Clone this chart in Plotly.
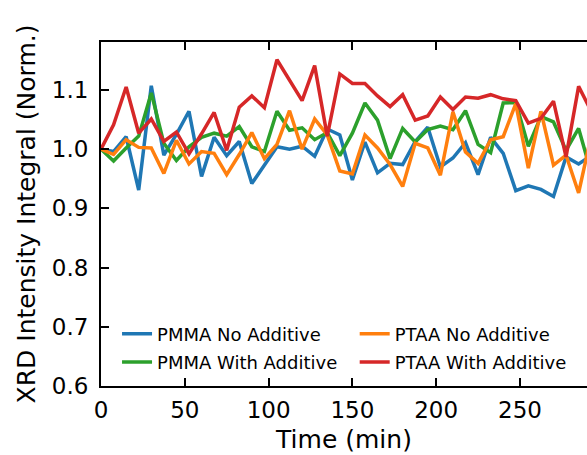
import plotly.graph_objects as go

time_min = [0, 7.5, 15, 22.5, 30, 37.5, 45, 52.5, 60, 67.5, 75, 82.5, 90, 97.5,
            105, 112.5, 120, 127.5, 135, 142.5, 150, 157.5, 165, 172.5, 180, 187.5,
            195, 202.5, 210, 217.5, 225, 232.5, 240, 247.5, 255, 262.5, 270, 277.5,
            285, 292.5]

pmma_no_additive = [1.000, 0.996, 1.021, 0.931, 1.107, 0.990, 1.025, 1.064, 0.954, 1.020,
                    0.989, 1.013, 0.942, 0.972, 1.004, 1.000, 1.005, 0.988, 1.034, 1.024,
                    0.948, 1.012, 0.960, 0.976, 0.974, 1.013, 1.037, 0.970, 0.985, 1.011,
                    0.957, 1.020, 0.993, 0.930, 0.938, 0.932, 0.920, 0.987, 0.975, 0.989]

pmma_with_additive = [1.000, 0.980, 1.002, 1.022, 1.095, 1.010, 0.981, 1.004, 1.020, 1.027,
                      1.022, 1.038, 1.004, 0.996, 1.064, 1.032, 1.036, 1.016, 1.028, 0.989,
                      1.027, 1.078, 1.049, 0.984, 1.035, 1.012, 1.033, 1.039, 1.033, 1.065,
                      1.008, 0.994, 1.078, 1.079, 1.005, 1.055, 1.046, 0.998, 1.035, 0.960]

ptaa_no_additive = [1.000, 0.991, 1.016, 1.003, 1.002, 0.959, 1.015, 0.975, 0.996, 0.993,
                    0.957, 0.991, 1.028, 0.984, 1.008, 1.065, 1.000, 1.051, 1.024, 0.963,
                    0.958, 1.024, 1.002, 0.974, 0.937, 1.010, 1.002, 0.956, 1.063, 0.995,
                    0.976, 1.016, 1.021, 1.077, 0.968, 1.064, 0.973, 0.990, 0.926, 1.023]

ptaa_with_additive = [1.000, 1.041, 1.105, 1.027, 1.051, 1.013, 1.029, 0.992, 1.026, 1.062,
                      0.998, 1.071, 1.090, 1.070, 1.151, 1.116, 1.082, 1.141, 1.022, 1.127,
                      1.111, 1.111, 1.090, 1.072, 1.092, 1.049, 1.056, 1.088, 1.067, 1.088,
                      1.086, 1.092, 1.085, 1.082, 1.044, 1.052, 1.081, 0.987, 1.106, 1.064]

x_ticks = [0, 50, 100, 150, 200, 250]
y_ticks = [0.6, 0.7, 0.8, 0.9, 1.0, 1.1]
y_tick_text = ["0.6", "0.7", "0.8", "0.9", "1.0", "1.1"]

series = [
    ("PMMA No Additive", pmma_no_additive, "#1f77b4", "legend", 1),
    ("PMMA With Additive", pmma_with_additive, "#2ca02c", "legend", 2),
    ("PTAA No Additive", ptaa_no_additive, "#ff7f0e", "legend2", 1),
    ("PTAA With Additive", ptaa_with_additive, "#d62728", "legend2", 2),
]

FONT = "DejaVu Sans"
fig = go.Figure()
for name, vals, color, leg, rank in series:
    fig.add_trace(go.Scatter(
        x=time_min, y=vals, mode="lines", name=name,
        line=dict(color=color, width=3.5),
        legend=leg, legendrank=rank, legendgroup=name,
    ))

XR = [0, 290]
YR = [0.6, 1.181]

legend_common = dict(
    bgcolor="rgba(0,0,0,0)", borderwidth=0,
    font=dict(family=FONT, size=18, color="black"),
    orientation="v", xanchor="left", yanchor="top",
    tracegroupgap=2, traceorder="grouped",
)

fig.update_layout(
    width=587, height=455,
    margin=dict(l=101, r=0, t=42, b=69),
    paper_bgcolor="white", plot_bgcolor="white",
    font=dict(family=FONT, color="black"),
    showlegend=True,
    legend=dict(x=0.033, y=0.205, **legend_common),
    legend2=dict(x=0.522, y=0.205, **legend_common),
    xaxis=dict(
        range=XR, tickvals=x_ticks, ticks="inside", ticklen=8, tickwidth=2,
        tickcolor="black", showline=True, linewidth=2, linecolor="black",
        mirror="ticks", showgrid=False, zeroline=False,
        tickfont=dict(family=FONT, size=23, color="black"),
        title=dict(text="Time (min)", font=dict(family=FONT, size=25, color="black"), standoff=9),
        ticklabelstandoff=2,
    ),
    yaxis=dict(
        range=YR, tickvals=y_ticks, ticktext=y_tick_text, ticks="inside", ticklen=8,
        tickwidth=2, tickcolor="black", showline=True, linewidth=2, linecolor="black",
        mirror=False, showgrid=False, zeroline=False,
        tickfont=dict(family=FONT, size=23, color="black"),
        title=dict(text="XRD Intensity Integral (Norm.)", font=dict(family=FONT, size=25, color="black"), standoff=9),
        ticklabelstandoff=6,
    ),
    yaxis2=dict(
        overlaying="y", side="right", range=YR, tickvals=y_ticks, ticks="inside",
        ticklen=8, tickwidth=2, tickcolor="black", showticklabels=False,
        showline=False, showgrid=False, zeroline=False,
    ),
)

fig.write_html("out.html")
